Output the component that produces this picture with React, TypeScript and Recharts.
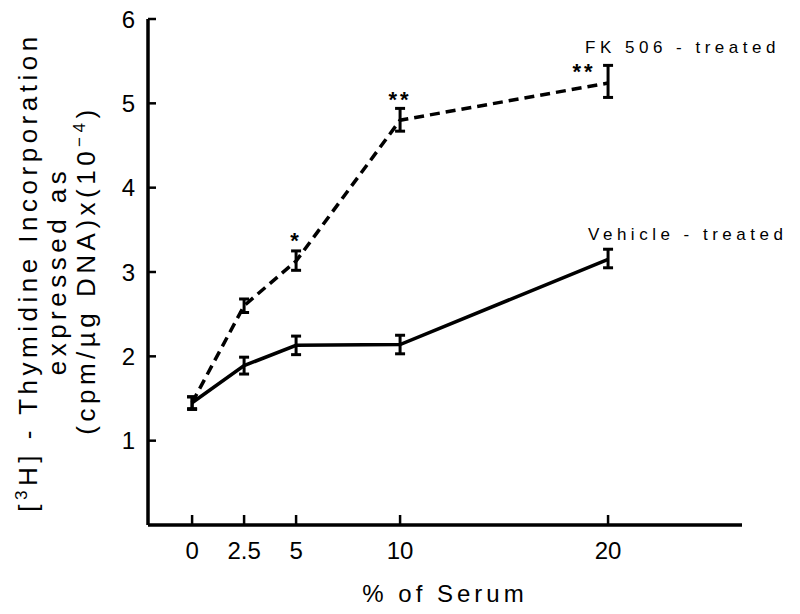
import React from 'react';
import { LineChart, Line, XAxis, YAxis, ErrorBar, LabelList } from 'recharts';

const serum = [0, 2.5, 5, 10, 20];
const fkMean = [1.45, 2.6, 3.13, 4.8, 5.24];
const fkErr = [[0.07, 0.07], [0.08, 0.08], [0.11, 0.12], [0.13, 0.14], [0.17, 0.21]];
const vehMean = [1.45, 1.89, 2.13, 2.14, 3.15];
const vehErr = [[0.08, 0.07], [0.1, 0.1], [0.11, 0.11], [0.11, 0.11], [0.1, 0.12]];
const fkStars = ['', '', '*', '**', '**'];
const xTicks = [0, 2.5, 5, 10, 20];
const yTicks = [1, 2, 3, 4, 5, 6];
const seriesNames = ['FK 506 - treated', 'Vehicle - treated'];

const data = serum.map((s, i) => ({
  serum: s,
  fk: fkMean[i],
  fkErr: fkErr[i],
  veh: vehMean[i],
  vehErr: vehErr[i],
  star: fkStars[i],
}));

const FONT = '"Liberation Sans", Arial, Helvetica, sans-serif';

const StarLabel = (props: any) => {
  const { x, y, value, index } = props;
  if (!value) return null;
  const last = index === serum.length - 1;
  return (
    <text
      x={last ? x - 24 : x}
      y={last ? y - 4 : y - 13}
      textAnchor="middle"
      fontFamily={FONT}
      fontSize={22}
      fontWeight="bold"
      letterSpacing={3}
      fill="#000"
    >
      {value}
    </text>
  );
};

const makeNameLabel = (name: string, dx: number, dy: number) => (props: any) => {
  const { x, y, index } = props;
  if (index !== serum.length - 1) return null;
  return (
    <text x={x + dx} y={y + dy} fontFamily={FONT} fontSize={17} letterSpacing={4.5} fill="#000">
      {name}
    </text>
  );
};

const YLabel = () => {
  const common = { fontFamily: FONT, fontSize: 26, fill: '#000', textAnchor: 'middle' as const };
  return (
    <g>
      <text x={37} y={272} transform="rotate(-90 37 272)" letterSpacing={4.5} {...common}>
        [<tspan dy={-10} fontSize={17}>3</tspan>
        <tspan dy={10}>H] - Thymidine Incorporation</tspan>
      </text>
      <text x={66} y={271} transform="rotate(-90 66 271)" letterSpacing={4.5} {...common}>
        expressed as
      </text>
      <text x={95} y={270} transform="rotate(-90 95 270)" letterSpacing={4.5} {...common}>
        (cpm/µg DNA)x(10<tspan dy={-10} fontSize={17}>−4</tspan>
        <tspan dy={10}>)</tspan>
      </text>
    </g>
  );
};

export default function App() {
  return (
    <div style={{ position: 'absolute', left: 0, top: 0, background: '#fff' }}>
      <LineChart
        width={800}
        height={614}
        data={data}
        margin={{ top: 19, right: 58, bottom: 0, left: 0 }}
      >
        <XAxis
          dataKey="serum"
          type="number"
          domain={[-2.12, 26.44]}
          ticks={xTicks}
          height={89}
          stroke="#000"
          axisLine={{ stroke: '#000', strokeWidth: 3.5 }}
          tickLine={{ stroke: '#000', strokeWidth: 2.5 }}
          tickSize={-10}
          tickMargin={27}
          tick={{ fill: '#000', fontSize: 24, fontFamily: FONT }}
          label={{
            value: '% of Serum',
            position: 'insideBottom',
            offset: 12,
            fill: '#000',
            fontSize: 24,
            fontFamily: FONT,
            letterSpacing: 4,
          }}
        />
        <YAxis
          type="number"
          domain={[0, 6]}
          ticks={yTicks}
          width={148}
          stroke="#000"
          axisLine={{ stroke: '#000', strokeWidth: 3.5 }}
          tickLine={{ stroke: '#000', strokeWidth: 2.5 }}
          tickSize={-8}
          tickMargin={21}
          tick={{ fill: '#000', fontSize: 24, fontFamily: FONT }}
          label={{ content: YLabel }}
        />
        <Line
          dataKey="veh"
          stroke="#000"
          strokeWidth={3.5}
          dot={false}
          isAnimationActive={false}
        >
          <ErrorBar dataKey="vehErr" width={5} strokeWidth={3} stroke="#000" direction="y" />
          <LabelList dataKey="veh" content={makeNameLabel(seriesNames[1], -20, -19)} />
        </Line>
        <Line
          dataKey="fk"
          stroke="#000"
          strokeWidth={3.5}
          strokeDasharray="10 6"
          dot={false}
          isAnimationActive={false}
        >
          <ErrorBar dataKey="fkErr" width={5} strokeWidth={3} stroke="#000" direction="y" />
          <LabelList dataKey="star" content={StarLabel} />
          <LabelList dataKey="fk" content={makeNameLabel(seriesNames[0], -23, -30)} />
        </Line>
      </LineChart>
    </div>
  );
}
